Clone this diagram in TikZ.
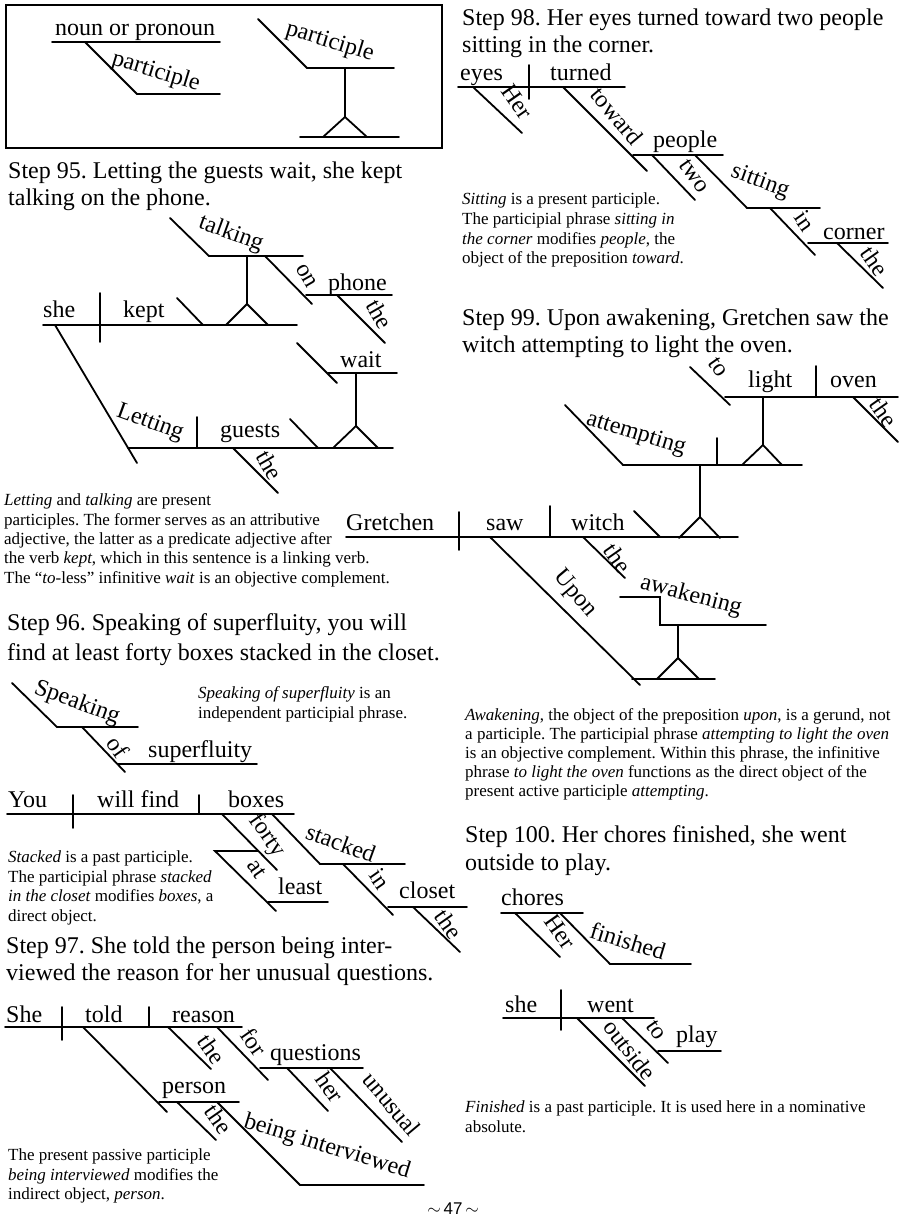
\documentclass[tikz,border=0pt]{standalone}
\usepackage{fontspec}
\setmainfont{Liberation Serif}
\newfontfamily\sansf{Liberation Sans}
\frenchspacing
\newcommand\wfont{\fontsize{24}{24}\selectfont}
\newcommand\hfont{\fontsize{24}{28}\selectfont}
\newcommand\nfont{\fontsize{17}{19.5}\selectfont}
\tikzset{
  dl/.style={line width=1.8pt, line cap=round},
  wd/.style={font=\wfont, inner sep=0pt, anchor=base west},
  sl/.style={font=\wfont, inner sep=0pt, anchor=center},
  hd/.style={font=\hfont, inner sep=0pt, anchor=base west},
  nt/.style={font=\nfont, inner sep=0pt, anchor=base west},
}
\begin{document}
\begin{tikzpicture}[x=1pt,y=-1pt]
\fill[white] (0,0) rectangle (900,1224);
\useasboundingbox (0,0) rectangle (900,1224);

% ---------- legend box ----------
\draw[line width=1.4pt] (6,5) rectangle (442,148);
\node[wd] (b1) at (55,35) {noun or pronoun};
\draw[dl] (52,42) -- (220,42);
\draw[dl] (85,42) -- (137,94) -- (220,94);
\node[sl,rotate=-17] (b2) at (156,72) {participle};
\draw[dl] (258,19) -- (307,68) -- (394,68);
\node[sl,rotate=-17] (b3) at (330,42) {participle};
\draw[dl] (345,68) -- (345,117);
\draw[dl] (323,137) -- (345,117) -- (367,137);
\draw[dl] (300,137) -- (399,137);

% ---------- Step 95 ----------
\node[hd] (h95a) at (8,178) {Step 95. Letting the guests wait, she kept};
\node[hd] (h95b) at (8,205) {talking on the phone.};
\node[wd] (s95she) at (43,317) {she};
\draw[dl] (43,325) -- (297,325);
\draw[dl] (100,293) -- (100,342);
\node[wd] (s95kept) at (123,317) {kept};
\draw[dl] (177,298) -- (203,325);
\draw[dl] (226,325) -- (247,304) -- (268,325);
\draw[dl] (247,304) -- (247,256);
\draw[dl] (170,218) -- (209,256) -- (303,256);
\node[sl,rotate=-20] (s95talk) at (231,234) {talking};
\draw[dl] (265,256) -- (312,304);
\node[sl,rotate=-60] (s95on) at (306,276) {on};
\draw[dl] (306,295) -- (392,295);
\node[wd] (s95phone) at (328,290) {phone};
\draw[dl] (337,295) -- (385,343);
\node[sl,rotate=-60] (s95the1) at (380,314) {the};
\draw[dl] (297,343) -- (337,383);
\draw[dl] (328,373) -- (397,373);
\node[wd] (s95wait) at (340,367) {wait};
\draw[dl] (356,373) -- (356,426);
\draw[dl] (333,448) -- (356,426) -- (378,448);
\draw[dl] (128,448) -- (393,448);
\draw[dl] (55,325) -- (137,463);
\node[sl,rotate=-20] (s95let) at (150,423) {Letting};
\draw[dl] (197,417) -- (197,448);
\node[wd] (s95guests) at (220,437) {guests};
\draw[dl] (290,419) -- (318,448);
\draw[dl] (233,448) -- (278,493);
\node[sl,rotate=-60] (s95the2) at (270,465) {the};

\node[nt] (n95a) at (4,505) {\textit{Letting} and \textit{talking} are present};
\node[nt] (n95b) at (4,525) {participles. The former serves as an attributive};
\node[nt] (n95c) at (4,544) {adjective, the latter as a predicate adjective after};
\node[nt] (n95d) at (4,563) {the verb \textit{kept}, which in this sentence is a linking verb.};
\node[nt] (n95e) at (4,583) {The “\textit{to}-less” infinitive \textit{wait} is an objective complement.};

% ---------- Step 96 ----------
\node[hd] (h96a) at (7,630) {Step 96. Speaking of superfluity, you will};
\node[hd] (h96b) at (7,660) {find at least forty boxes stacked in the closet.};
\draw[dl] (12,683) -- (57,727) -- (138,727);
\node[sl,rotate=-20] (s96speak) at (77,703) {Speaking};
\draw[dl] (82,727) -- (125,772);
\node[sl,rotate=-55] (s96of) at (118,747) {of};
\draw[dl] (118,764) -- (257,764);
\node[wd] (s96sup) at (148,757) {superfluity};
\node[nt] (n96a) at (198,698) {\textit{Speaking of superfluity} is an};
\node[nt] (n96b) at (198,718) {independent participial phrase.};

\node[wd] (s96you) at (8,807) {You};
\draw[dl] (7,814) -- (294,814);
\draw[dl] (73,795) -- (73,828);
\draw[dl] (199,795) -- (199,814);
\node[wd] (s96find) at (97,807) {will find};
\node[wd] (s96boxes) at (228,807) {boxes};
\draw[dl] (222,814) -- (277,870);
\node[sl,rotate=-55] (s96forty) at (267,836) {forty};
\draw[dl] (258,851) -- (215,851) -- (276,911);
\node[sl,rotate=-55] (s96at) at (257,869) {at};
\draw[dl] (268,902) -- (328,902);
\node[wd] (s96least) at (278,894) {least};
\draw[dl] (272,814) -- (320,864) -- (405,864);
\node[sl,rotate=-20] (s96stack) at (341,843) {stacked};
\draw[dl] (343,864) -- (393,915);
\node[sl,rotate=-55] (s96in) at (380,879) {in};
\draw[dl] (388,907) -- (467,907);
\node[wd] (s96closet) at (399,898) {closet};
\draw[dl] (413,907) -- (460,952);
\node[sl,rotate=-55] (s96the) at (449,924) {the};

\node[nt] (n96c) at (8,862) {\textit{Stacked} is a past participle.};
\node[nt] (n96d) at (8,882) {The participial phrase \textit{stacked}};
\node[nt] (n96e) at (8,901) {\textit{in the closet} modifies \textit{boxes}, a};
\node[nt] (n96f) at (8,921) {direct object.};

% ---------- Step 97 ----------
\node[hd] (h97a) at (6,953) {Step 97. She told the person being inter-};
\node[hd] (h97b) at (6,980) {viewed the reason for her unusual questions.};
\node[wd] (s97she) at (6,1022) {She};
\draw[dl] (5,1027) -- (242,1027);
\draw[dl] (62,1007) -- (62,1040);
\draw[dl] (149,1007) -- (149,1027);
\node[wd] (s97told) at (85,1022) {told};
\node[wd] (s97reason) at (172,1022) {reason};
\draw[dl] (83,1027) -- (167,1112);
\draw[dl] (159,1102) -- (239,1102);
\node[wd] (s97person) at (162,1093) {person};
\draw[dl] (168,1027) -- (211,1069);
\node[sl,rotate=-55] (s97the1) at (212,1049) {the};
\draw[dl] (217,1027) -- (268,1080);
\node[sl,rotate=-55] (s97for) at (254,1042) {for};
\draw[dl] (260,1068) -- (363,1068);
\node[wd] (s97q) at (270,1060) {questions};
\draw[dl] (287,1068) -- (328,1111);
\node[sl,rotate=-55] (s97her) at (330,1087) {her};
\draw[dl] (330,1068) -- (402,1142);
\node[sl,rotate=-50] (s97unu) at (392,1104) {unusual};
\draw[dl] (177,1102) -- (216,1140);
\node[sl,rotate=-55] (s97the2) at (219,1119) {the};
\draw[dl] (217,1102) -- (300,1185) -- (424,1185);
\node[sl,rotate=-17] (s97being) at (327,1147) {being interviewed};
\node[nt] (n97a) at (8,1160) {The present passive participle};
\node[nt] (n97b) at (8,1180) {\textit{being interviewed} modifies the};
\node[nt] (n97c) at (8,1199) {indirect object, \textit{person}.};

% ---------- Step 98 ----------
\node[hd] (h98a) at (462,25) {Step 98. Her eyes turned toward two people};
\node[hd] (h98b) at (462,52) {sitting in the corner.};
\draw[dl] (458,87) -- (625,87);
\node[wd] (s98eyes) at (460,80) {eyes};
\draw[dl] (529,65) -- (529,99);
\node[wd] (s98turned) at (550,80) {turned};
\draw[dl] (473,87) -- (522,133);
\node[sl,rotate=-55] (s98her) at (517,102) {Her};
\draw[dl] (563,87) -- (647,171);
\node[sl,rotate=-50] (s98toward) at (617,116) {toward};
\draw[dl] (633,155) -- (723,155);
\node[wd] (s98people) at (653,147) {people};
\draw[dl] (652,155) -- (695,200);
\node[sl,rotate=-55] (s98two) at (694,176) {two};
\draw[dl] (695,155) -- (747,208) -- (820,208);
\node[sl,rotate=-20] (s98sit) at (760,182) {sitting};
\draw[dl] (770,208) -- (815,255);
\node[sl,rotate=-55] (s98in) at (805,221) {in};
\draw[dl] (808,243) -- (888,243);
\node[wd] (s98corner) at (823,239) {corner};
\draw[dl] (837,243) -- (883,288);
\node[sl,rotate=-55] (s98the) at (875,261) {the};
\node[nt] (n98a) at (462,204) {\textit{Sitting} is a present participle.};
\node[nt] (n98b) at (462,224) {The participial phrase \textit{sitting in}};
\node[nt] (n98c) at (462,244) {\textit{the corner} modifies \textit{people}, the};
\node[nt] (n98d) at (462,263) {object of the preposition \textit{toward}.};

% ---------- Step 99 ----------
\node[hd] (h99a) at (462,325) {Step 99. Upon awakening, Gretchen saw the};
\node[hd] (h99b) at (462,352) {witch attempting to light the oven.};
\draw[dl] (690,367) -- (730,405);
\node[sl,rotate=-55] (s99to) at (718,367) {to};
\draw[dl] (725,397) -- (898,397);
\node[wd] (s99light) at (748,387) {light};
\draw[dl] (816,366) -- (816,397);
\node[wd] (s99oven) at (830,387) {oven};
\draw[dl] (853,397) -- (898,442);
\node[sl,rotate=-55] (s99the1) at (884,412) {the};
\draw[dl] (763,397) -- (763,445);
\draw[dl] (742,465) -- (763,445) -- (782,465);
\draw[dl] (565,405) -- (623,465) -- (802,465);
\node[sl,rotate=-17] (s99att) at (636,434) {attempting};
\draw[dl] (717,438) -- (717,465);
\draw[dl] (700,465) -- (700,517);
\draw[dl] (679,538) -- (700,517) -- (720,538);
\draw[dl] (346,537) -- (738,537);
\node[wd] (s99gret) at (346,530) {Gretchen};
\draw[dl] (459,512) -- (459,550);
\node[wd] (s99saw) at (486,530) {saw};
\draw[dl] (550,506) -- (550,537);
\node[wd] (s99witch) at (571,530) {witch};
\draw[dl] (634,511) -- (660,537);
\draw[dl] (583,537) -- (625,578);
\node[sl,rotate=-55] (s99the2) at (618,558) {the};
\draw[dl] (490,537) -- (640,685);
\node[sl,rotate=-50] (s99upon) at (575,594) {Upon};
\draw[dl] (632,679) -- (715,679);
\draw[dl] (657,679) -- (678,658) -- (699,679);
\draw[dl] (678,658) -- (678,625);
\draw[dl] (620,597) -- (660,597) -- (660,625) -- (766,625);
\node[sl,rotate=-15] (s99awak) at (691,596) {awakening};
\node[nt] (n99a) at (465,720) {\textit{Awakening}, the object of the preposition \textit{upon}, is a gerund, not};
\node[nt] (n99b) at (465,739) {a participle. The participial phrase \textit{attempting to light the oven}};
\node[nt] (n99c) at (465,758) {is an objective complement. Within this phrase, the infinitive};
\node[nt] (n99d) at (465,777) {phrase \textit{to light the oven} functions as the direct object of the};
\node[nt] (n99e) at (465,796) {present active participle \textit{attempting}.};

% ---------- Step 100 ----------
\node[hd] (h100a) at (465,842) {Step 100. Her chores finished, she went};
\node[hd] (h100b) at (465,870) {outside to play.};
\draw[dl] (501,913) -- (583,913);
\node[wd] (s100chores) at (501,905) {chores};
\draw[dl] (515,913) -- (560,957);
\node[sl,rotate=-55] (s100her) at (560,932) {Her};
\draw[dl] (560,913) -- (610,964) -- (691,964);
\node[sl,rotate=-17] (s100fin) at (628,941) {finished};
\draw[dl] (503,1018) -- (654,1018);
\node[wd] (s100she) at (505,1012) {she};
\draw[dl] (561,990) -- (561,1030);
\node[wd] (s100went) at (587,1012) {went};
\draw[dl] (577,1018) -- (645,1086);
\node[sl,rotate=-52] (s100out) at (630,1050) {outside};
\draw[dl] (622,1018) -- (668,1063);
\node[sl,rotate=-55] (s100to) at (656,1030) {to};
\draw[dl] (658,1051) -- (721,1051);
\node[wd] (s100play) at (676,1042) {play};
\node[nt] (n100a) at (465,1112) {\textit{Finished} is a past participle. It is used here in a nominative};
\node[nt] (n100b) at (465,1132) {absolute.};

% ---------- footer ----------
\node[font=\fontsize{17}{17}\selectfont, inner sep=0pt, anchor=base] (pg) at (453,1214) {$\sim$\,{\sansf 47}\,$\sim$};
\end{tikzpicture}
\end{document}
